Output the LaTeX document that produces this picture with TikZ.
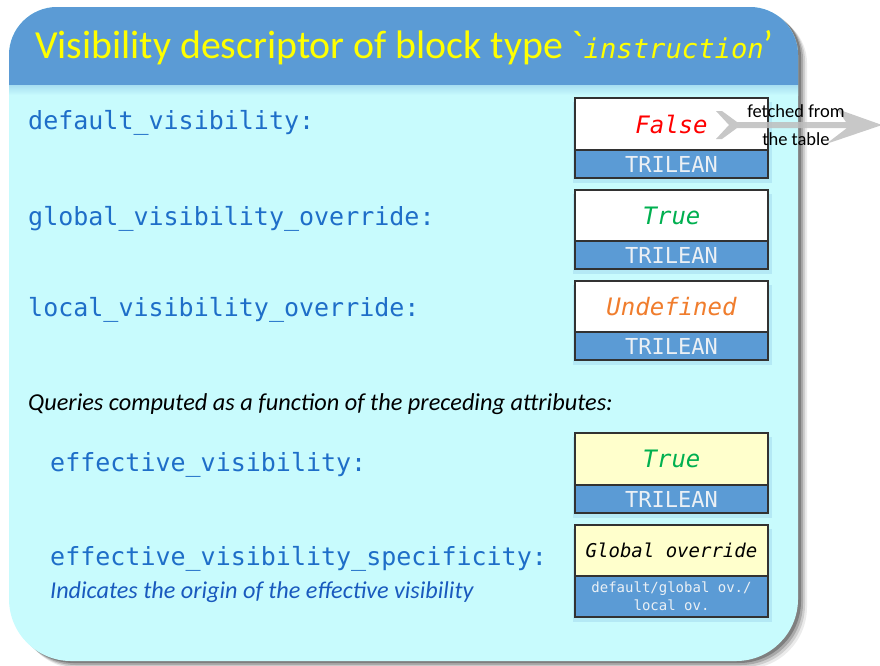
\documentclass[tikz,border=0pt]{standalone}
\usepackage{fontspec}
\setmainfont{Carlito}
\newfontfamily\carlitoraw[Ligatures=TeXOff]{Carlito}
\newfontfamily\monof{DejaVu Sans Mono}
\usetikzlibrary{calc}
\definecolor{hdrblue}{RGB}{91,155,213}
\definecolor{bodycyan}{RGB}{200,251,253}
\definecolor{lblblue}{RGB}{30,110,200}
\definecolor{descblue}{RGB}{25,90,190}
\definecolor{boxyellow}{RGB}{255,255,204}
\definecolor{valgreen}{RGB}{0,176,80}
\definecolor{valorange}{RGB}{240,125,45}
\definecolor{edgegray}{RGB}{50,50,50}
\definecolor{arrowgray}{RGB}{190,190,190}
\definecolor{typetext}{RGB}{235,240,245}
\tikzset{
  panelpath/.style={insert path={(9,330) [rounded corners=48pt] -- (9,7) -- (798,7) -- (798,330) [rounded corners=62pt] -- (798,661) -- (9,661) -- cycle}},
  attrlabel/.style={anchor=base west, inner sep=0pt, text=lblblue, font=\monof\fontsize{25}{27}\selectfont},
  valbox/.style={draw=edgegray, line width=1.2pt, minimum width=193pt, inner sep=0pt, font=\monof\itshape\fontsize{24}{26}\selectfont},
  typebox/.style={draw=edgegray, line width=1.2pt, fill=hdrblue, minimum width=193pt, minimum height=28pt, inner sep=0pt, text=typetext, font=\monof\fontsize{22}{23}\selectfont},
  boxshadow/.style={fill=hdrblue, opacity=0.18},
}
\begin{document}
\begin{tikzpicture}[x=1pt,y=-1pt]
\useasboundingbox (0,0) rectangle (880,665);
% panel shadow
\fill[black, opacity=0.08, shift={(9,8)}, panelpath];
\fill[black, opacity=0.12, shift={(7,6)}, panelpath];
\fill[black, opacity=0.18, shift={(5,4)}, panelpath];
\fill[black, opacity=0.25, shift={(3,2)}, panelpath];
% panel body
\fill[bodycyan, panelpath];
\begin{scope}
  \clip[panelpath];
  \fill[hdrblue] (0,0) rectangle (880,85);
  \shade[top color=bodycyan!70!hdrblue, bottom color=bodycyan] (0,85) rectangle (880,95);
\end{scope}
% title
\node[anchor=base west, inner sep=0pt, text={rgb,255:red,255;green,255;blue,0}, font=\fontsize{39.8}{42}\selectfont] (title) at (35,58)
  {Visibility descriptor of block type {\carlitoraw\symbol{96}}{\monof\itshape\fontsize{27.2}{28}\selectfont instruction}'};
% attribute labels
\node[attrlabel] (ldef) at (28,129) {default\_visibility:};
\node[attrlabel] (lglob) at (28,225) {global\_visibility\_override:};
\node[attrlabel] (lloc) at (28,316) {local\_visibility\_override:};
\node[anchor=base west, inner sep=0pt, font=\itshape\fontsize{24.3}{26}\selectfont] (queries) at (28,410)
  {Queries computed as a function of the preceding attributes:};
\node[attrlabel] (leff) at (50,471) {effective\_visibility:};
\node[attrlabel] (lspec) at (50,565) {effective\_visibility\_specificity:};
\node[anchor=base west, inner sep=0pt, text=descblue, font=\itshape\fontsize{24.2}{26}\selectfont] (ldesc) at (50,598)
  {Indicates the origin of the effective visibility};
% box shadows
\foreach \t/\b in {98/178,190/269,281/360,433/513,525/617}{
  \fill[boxshadow] (573,\t+4) rectangle (772,\b+5);
}
% boxes
\node[valbox, fill=white, minimum height=52pt, text=red] (v1) at (671.5,124) {False};
\node[typebox] (t1) at (671.5,164) {TRILEAN};
\node[valbox, fill=white, minimum height=51pt, text=valgreen] (v2) at (671.5,215.5) {True};
\node[typebox] (t2) at (671.5,255) {TRILEAN};
\node[valbox, fill=white, minimum height=51pt, text=valorange] (v3) at (671.5,306.5) {Undefined};
\node[typebox] (t3) at (671.5,346) {TRILEAN};
\node[valbox, fill=boxyellow, minimum height=52pt, text=valgreen] (v4) at (671.5,459) {True};
\node[typebox] (t4) at (671.5,499) {TRILEAN};
\node[valbox, fill=boxyellow, minimum height=51pt, text=black, font=\monof\itshape\fontsize{19}{20}\selectfont] (v5) at (671.5,550.5) {Global override};
\node[typebox, minimum height=41pt, align=center, font=\monof\fontsize{14}{18}\selectfont] (t5) at (671.5,596.5) {default/global ov./\\local ov.};
% fetched arrow
\coordinate (ftail) at (716,125);
\coordinate (ftip) at (882,125);
\fill[arrowgray, opacity=0.85, shift={(ftail)}]
  (0,-14) -- (6,-14) -- (21,-3) -- (130,-3) -- (121,-16) -- (166,0) -- (110,19) -- (131,3) -- (21,3) -- (6,14) -- (0,14) -- (13,0) -- cycle;
\node[align=center, inner sep=0pt, font=\fontsize{18.5}{28}\selectfont] (fetch) at (796,125) {fetched from\\the table};
\end{tikzpicture}
\end{document}
